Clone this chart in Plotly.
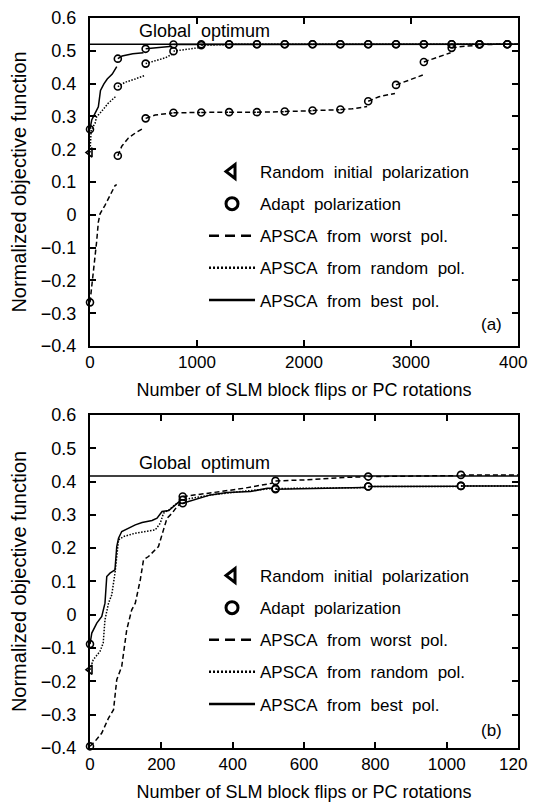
import plotly.graph_objects as go

# ---------------- Panel (a) data ----------------
a_rounds = [0, 260, 520, 780, 1040, 1300, 1560, 1820, 2080, 2340, 2600, 2860, 3120, 3380, 3640, 3900]
a_global = 0.52
a_xrange = [0, 4000]

a_worst_adapt = [-0.267, 0.18, 0.294, 0.311, 0.312, 0.313, 0.313, 0.315, 0.318, 0.321,
                 0.346, 0.396, 0.466, 0.509, 0.519, 0.52]
a_random_init = [0.19]
a_random_adapt = [0.391, 0.461, 0.499, 0.517, 0.519, 0.52, 0.52, 0.52, 0.52, 0.52,
                  0.52, 0.52, 0.52, 0.52, 0.52]
a_best_adapt = [0.261, 0.476, 0.506, 0.519, 0.52, 0.52, 0.52, 0.52, 0.52, 0.52,
                0.52, 0.52, 0.52, 0.52, 0.52, 0.52]

a_worst_x = [0, 16, 31, 47, 62, 78, 94, 140, 187, 234, 250, None,
             260, 297, 359, 422, 500, None,
             520, 609, 734, 770, None,
             780, 1030, None, 1040, 1290, None, 1300, 1550, None, 1560, 1810, None,
             1820, 2070, None, 2080, 2330, None,
             2340, 2450, 2590, None,
             2600, 2700, 2850, None,
             2860, 2980, 3110, None,
             3120, 3230, 3370, None,
             3380, 3500, 3630, None,
             3640, 3890, None, 3900, 4000]
a_worst_y = [-0.267, -0.222, -0.182, -0.122, -0.082, -0.022, 0.003, 0.029, 0.059, 0.089, 0.092, None,
             0.18, 0.209, 0.234, 0.249, 0.264, None,
             0.294, 0.304, 0.309, 0.31, None,
             0.311, 0.312, None, 0.312, 0.313, None, 0.313, 0.313, None, 0.313, 0.314, None,
             0.315, 0.317, None, 0.318, 0.32, None,
             0.321, 0.323, 0.33, None,
             0.346, 0.36, 0.37, None,
             0.396, 0.41, 0.426, None,
             0.466, 0.478, 0.494, None,
             0.509, 0.514, 0.516, None,
             0.519, 0.52, None, 0.52, 0.52]

a_random_x = [0, 5, 11, 47, 62, 105, 167, 234, 250, None,
              260, 328, 422, 505, None,
              520, 613, 707, 770, None,
              780, 900, 1030, None,
              1040, 1290, None,
              1300, 4000]
a_random_y = [0.19, 0.229, 0.259, 0.279, 0.299, 0.314, 0.339, 0.359, 0.362, None,
              0.391, 0.404, 0.414, 0.424, None,
              0.461, 0.469, 0.479, 0.49, None,
              0.499, 0.505, 0.51, None,
              0.517, 0.519, None,
              0.52, 0.52]

a_best_x = [0, 16, 47, 78, 86, 98, 130, 161, 208, 240, 250, None,
            260, 300, 400, 500, None,
            520, 650, 770, None,
            780, 4000]
a_best_y = [0.261, 0.289, 0.309, 0.329, 0.349, 0.379, 0.399, 0.414, 0.429, 0.449, 0.452, None,
            0.476, 0.484, 0.491, 0.494, None,
            0.506, 0.511, 0.514, None,
            0.519, 0.52]

# ---------------- Panel (b) data ----------------
b_rounds = [0, 260, 520, 780, 1040]
b_global = 0.417
b_xrange = [0, 1200]

b_worst_adapt = [-0.395, 0.355, 0.402, 0.415, 0.42]
b_random_init = [-0.165]
b_random_adapt = [0.345, 0.379, 0.385, 0.387]
b_best_adapt = [-0.088, 0.335, 0.377, 0.385, 0.387]

b_worst_x = [0, 14, 33, 52, 66, 75, 89, 103, 117, 127, 141, 150, 164, 192, 206, 216, 230, 244, 255, None,
             260, 291, 366, 432, 479, 510, None,
             520, 600, 722, 770, None,
             780, 1030, None,
             1040, 1200]
b_worst_y = [-0.395, -0.38, -0.355, -0.31, -0.285, -0.195, -0.155, -0.045, 0.015, 0.035, 0.105, 0.165,
             0.175, 0.205, 0.255, 0.29, 0.305, 0.325, 0.335, None,
             0.355, 0.36, 0.37, 0.38, 0.39, 0.395, None,
             0.402, 0.405, 0.413, 0.414, None,
             0.415, 0.418, None,
             0.42, 0.42]

b_random_x = [0, 9, 28, 37, 42, 52, 61, 70, 80, 94, 127, 155, 183, 197, 206, 221, 244, 252, None,
              260, 338, 440, 497, 510, None,
              520, 770, None,
              780, 1030, None,
              1040, 1200]
b_random_y = [-0.165, -0.135, -0.11, -0.085, -0.015, 0.035, 0.06, 0.125, 0.225, 0.235, 0.245, 0.25,
              0.255, 0.275, 0.305, 0.315, 0.335, 0.338, None,
              0.345, 0.36, 0.372, 0.378, 0.379, None,
              0.379, 0.382, None,
              0.385, 0.385, None,
              0.387, 0.387]

b_best_x = [0, 5, 19, 33, 42, 47, 56, 70, 75, 80, 89, 108, 127, 146, 174, 188, 202, 221, 235, 250, None,
            260, 291, 338, 385, 450, 497, 510, None,
            520, 770, None,
            780, 1030, None,
            1040, 1200]
b_best_y = [-0.088, -0.055, -0.025, -0.005, 0.035, 0.115, 0.125, 0.135, 0.205, 0.23, 0.25, 0.26, 0.27,
            0.277, 0.283, 0.29, 0.31, 0.313, 0.325, 0.34, None,
            0.335, 0.345, 0.36, 0.367, 0.37, 0.38, 0.38, None,
            0.377, 0.382, None,
            0.385, 0.386, None,
            0.387, 0.387]

legend_labels = ["Random\u00a0\u00a0initial\u00a0\u00a0polarization",
                 "Adapt\u00a0\u00a0polarization",
                 "APSCA\u00a0\u00a0from\u00a0\u00a0worst\u00a0\u00a0pol.",
                 "APSCA\u00a0\u00a0from\u00a0\u00a0random\u00a0\u00a0pol.",
                 "APSCA\u00a0\u00a0from\u00a0\u00a0best\u00a0\u00a0pol."]

FONT = "Liberation Sans, Arial, Helvetica, sans-serif"
BLACK = "black"
LW = 1.5
DASH = "5px,3px"
DOT = "1.5px,1.5px"

fig = go.Figure()


def add_panel(xa, ya, leg, rounds, xr, glob, wx, wy, rx, ry, bx, by,
              w_ad, r_init, r_ad, b_ad):
    common = dict(xaxis=xa, yaxis=ya, showlegend=False, hoverinfo="skip")
    # global optimum
    fig.add_trace(go.Scatter(x=xr, y=[glob, glob], mode="lines",
                             line=dict(color=BLACK, width=LW), **common))
    # APSCA curves
    fig.add_trace(go.Scatter(x=wx, y=wy, mode="lines", connectgaps=False,
                             line=dict(color=BLACK, width=LW, dash=DASH), **common))
    fig.add_trace(go.Scatter(x=rx, y=ry, mode="lines", connectgaps=False,
                             line=dict(color=BLACK, width=LW, dash=DOT), **common))
    fig.add_trace(go.Scatter(x=bx, y=by, mode="lines", connectgaps=False,
                             line=dict(color=BLACK, width=LW), **common))
    # adapt-polarization markers
    circ = dict(symbol="circle-open", size=7, color=BLACK, line=dict(width=1.6, color=BLACK))
    fig.add_trace(go.Scatter(x=rounds, y=w_ad, mode="markers", marker=circ,
                             cliponaxis=False, **common))
    fig.add_trace(go.Scatter(x=rounds[1:], y=r_ad, mode="markers", marker=circ,
                             cliponaxis=False, **common))
    fig.add_trace(go.Scatter(x=rounds, y=b_ad, mode="markers", marker=circ,
                             cliponaxis=False, **common))
    # random initial polarization
    fig.add_trace(go.Scatter(x=rounds[:1], y=r_init, mode="markers", cliponaxis=False,
                             marker=dict(symbol="triangle-left-open", size=8, color=BLACK,
                                         line=dict(width=1.6, color=BLACK)), **common))
    # legend entries
    lcommon = dict(x=[None], y=[None], xaxis=xa, yaxis=ya, legend=leg, showlegend=True)
    fig.add_trace(go.Scatter(mode="markers", name=legend_labels[0], legendgroup=leg + "1",
                             marker=dict(symbol="triangle-left-open", size=12, color=BLACK,
                                         line=dict(width=3, color=BLACK)), **lcommon))
    fig.add_trace(go.Scatter(mode="markers", name=legend_labels[1], legendgroup=leg + "2",
                             marker=dict(symbol="circle-open", size=12, color=BLACK,
                                         line=dict(width=3, color=BLACK)), **lcommon))
    fig.add_trace(go.Scatter(mode="lines", name=legend_labels[2], legendgroup=leg + "3",
                             line=dict(color=BLACK, width=2.5, dash="10px,6px"), **lcommon))
    fig.add_trace(go.Scatter(mode="lines", name=legend_labels[3], legendgroup=leg + "4",
                             line=dict(color=BLACK, width=2.5, dash="2px,2px"), **lcommon))
    fig.add_trace(go.Scatter(mode="lines", name=legend_labels[4], legendgroup=leg + "5",
                             line=dict(color=BLACK, width=2.5), **lcommon))


add_panel("x", "y", "legend", a_rounds, a_xrange, a_global,
          a_worst_x, a_worst_y, a_random_x, a_random_y, a_best_x, a_best_y,
          a_worst_adapt, a_random_init, a_random_adapt, a_best_adapt)
add_panel("x2", "y2", "legend2", b_rounds, b_xrange, b_global,
          b_worst_x, b_worst_y, b_random_x, b_random_y, b_best_x, b_best_y,
          b_worst_adapt, b_random_init, b_random_adapt, b_best_adapt)

axis_common = dict(showline=True, linewidth=2, linecolor=BLACK, mirror="ticks",
                   ticks="inside", ticklen=6, tickwidth=1.5, tickcolor=BLACK,
                   showgrid=False, zeroline=False, automargin=False,
                   ticklabeloverflow="allow")
xtick_font = dict(family=FONT, size=17, color=BLACK)
ytick_font = dict(family=FONT, size=18, color=BLACK)
xtitle = dict(text="Number of SLM block flips or PC rotations",
              font=dict(family=FONT, size=18, color=BLACK), standoff=12)
ytitle = dict(text="Normalized objective function",
              font=dict(family=FONT, size=20, color=BLACK), standoff=9)

legend_common = dict(font=dict(family=FONT, size=17, color=BLACK), bgcolor="rgba(0,0,0,0)",
                     xanchor="left", yanchor="top", tracegroupgap=7, itemwidth=46,
                     traceorder="grouped")

# the page body adds an 8 px offset, so the figure is 8 px smaller than the window
fig.update_layout(
    width=528, height=797,
    margin=dict(l=82, r=18, t=10, b=57, autoexpand=False),
    paper_bgcolor="white", plot_bgcolor="white",
    font=dict(family=FONT, color=BLACK),
    xaxis=dict(domain=[0, 1], range=a_xrange, dtick=1000, tick0=0, anchor="y",
               title=xtitle, ticklabelstandoff=0, tickfont=xtick_font, **axis_common),
    yaxis=dict(domain=[0.5507, 1], range=[-0.4, 0.6], dtick=0.1, tick0=0, anchor="x",
               title=ytitle, ticklabelstandoff=8, tickfont=ytick_font, **axis_common),
    xaxis2=dict(domain=[0, 1], range=b_xrange, dtick=200, tick0=0, anchor="y2",
                title=xtitle, ticklabelstandoff=0, tickfont=xtick_font, **axis_common),
    yaxis2=dict(domain=[0, 0.4562], range=[-0.4, 0.6], dtick=0.1, tick0=0, anchor="x2",
                title=ytitle, ticklabelstandoff=8, tickfont=ytick_font, **axis_common),
    legend=dict(x=0.2664, y=0.8137, **legend_common),
    legend2=dict(x=0.2664, y=0.2603, **legend_common),
    annotations=[
        dict(text="Global\u00a0\u00a0optimum", x=436, y=a_global, xref="x", yref="y",
             xanchor="left", yanchor="bottom", yshift=1, showarrow=False,
             font=dict(family=FONT, size=18, color=BLACK)),
        dict(text="Global\u00a0\u00a0optimum", x=131, y=b_global, xref="x2", yref="y2",
             xanchor="left", yanchor="bottom", yshift=1, showarrow=False,
             font=dict(family=FONT, size=18, color=BLACK)),
        dict(text="(a)", x=0.967, y=0.064, xref="x domain", yref="y domain",
             xanchor="right", yanchor="middle", showarrow=False,
             font=dict(family=FONT, size=17, color=BLACK)),
        dict(text="(b)", x=0.967, y=0.054, xref="x2 domain", yref="y2 domain",
             xanchor="right", yanchor="middle", showarrow=False,
             font=dict(family=FONT, size=17, color=BLACK)),
    ],
)

fig.write_html("out.html")
